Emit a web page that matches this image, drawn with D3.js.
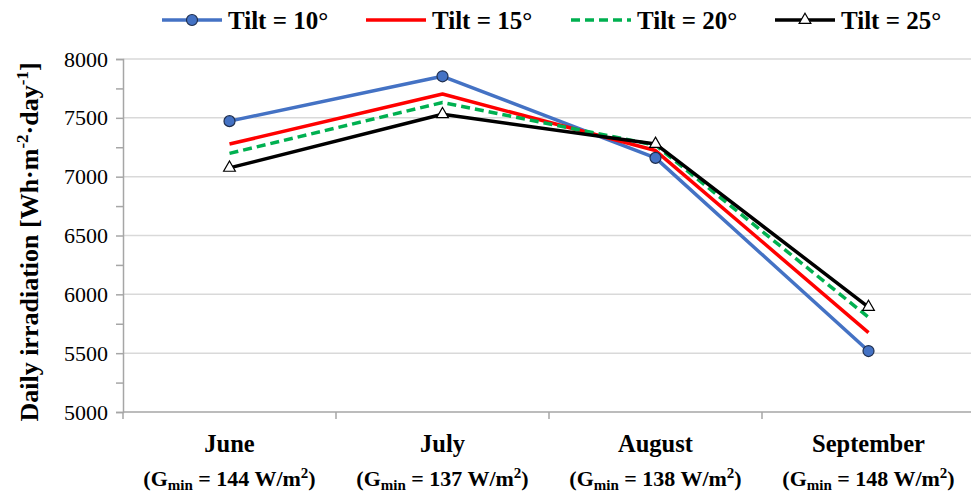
<!DOCTYPE html>
<html><head><meta charset="utf-8">
<script src="https://cdn.jsdelivr.net/npm/d3@7"></script>
<style>
html,body{margin:0;padding:0;background:#fff;}
svg text{font-family:"Liberation Serif","Times New Roman",Tinos,"DejaVu Serif",serif !important;}
</style></head>
<body>
<svg id="chart" width="971" height="492"></svg>
<script>
const months = ["June","July","August","September"];
const gmin = [144,137,138,148];
const yTicks = [5000,5500,6000,6500,7000,7500,8000];
const seriesNames = ["Tilt = 10°","Tilt = 15°","Tilt = 20°","Tilt = 25°"];
const tilt10 = [7472,7853,7160,5518];
const tilt15 = [7277,7702,7222,5675];
const tilt20 = [7198,7630,7268,5805];
const tilt25 = [7075,7530,7278,5892];

const svg = d3.select("#chart");
const L = 123, R = 975, T = 59, B = 412;
const x = d3.scaleBand().domain(months).range([L, R]);
const y = d3.scaleLinear().domain([5000,8000]).range([B, T]);

svg.append("g").selectAll("line").data(yTicks.slice(1)).join("line")
  .attr("x1", L).attr("x2", 971).attr("y1", d=>y(d)).attr("y2", d=>y(d))
  .attr("stroke", "#d9d9d9").attr("stroke-width", 1.5);

const yAxis = d3.axisLeft(y).tickValues(d3.range(5000,8001,250)).tickSize(7).tickFormat(d => d%500===0 ? d : "");
const gy = svg.append("g").attr("transform", `translate(${L},0)`).call(yAxis);
gy.select(".domain").attr("stroke", "#a6a6a6").attr("stroke-width", 1.5);
gy.selectAll(".tick line").attr("stroke", "#a6a6a6").attr("stroke-width", 1.5);
gy.selectAll(".tick text").attr("font-size", 22).attr("fill", "#000").attr("x", -15);

const gx = svg.append("g").attr("transform", `translate(0,${B})`);
gx.append("line").attr("x1", L).attr("x2", 971).attr("stroke", "#a6a6a6").attr("stroke-width", 1.5);
gx.selectAll("line.sep").data(months).join("line").attr("class","sep")
  .attr("x1", d=>x(d)).attr("x2", d=>x(d)).attr("y1", 0).attr("y2", 7)
  .attr("stroke", "#a6a6a6").attr("stroke-width", 1.5);

months.forEach((m,i) => {
  const cx = x(m) + x.bandwidth()/2;
  svg.append("text").attr("x", cx).attr("y", 452).attr("text-anchor","middle")
    .attr("font-weight","bold").attr("font-size", 24.5).text(m);
  const t = svg.append("text").attr("x", cx).attr("y", 486).attr("text-anchor","middle")
    .attr("font-weight","bold").attr("font-size", 22);
  t.append("tspan").text("(G");
  t.append("tspan").attr("font-size", 15).attr("dy", 4).text("min");
  t.append("tspan").attr("dy", -4).text(` = ${gmin[i]} W/m`);
  t.append("tspan").attr("font-size", 15).attr("dy", -8).text("2");
  t.append("tspan").attr("dy", 8).text(")");
});

const yt = svg.append("text").attr("transform", `translate(38,242) rotate(-90)`)
  .attr("text-anchor","middle").attr("font-weight","bold").attr("font-size", 26);
yt.append("tspan").text("Daily irradiation [Wh·m");
yt.append("tspan").attr("font-size", 17).attr("dy", -10).text("-2");
yt.append("tspan").attr("dy", 10).text("·day");
yt.append("tspan").attr("font-size", 17).attr("dy", -10).text("-1");
yt.append("tspan").attr("dy", 10).text("]");

const series = [
  {name: seriesNames[0], values: tilt10, color: "#4472c4", dash: null, marker: "circle"},
  {name: seriesNames[1], values: tilt15, color: "#ff0000", dash: null, marker: null},
  {name: seriesNames[2], values: tilt20, color: "#00b050", dash: "9,5", marker: null},
  {name: seriesNames[3], values: tilt25, color: "#000000", dash: null, marker: "triangle"}
];
const cxOf = m => x(m) + x.bandwidth()/2;
const line = d3.line().x((d,i)=>cxOf(months[i])).y(d=>y(d));
const tri = d3.symbol().type(d3.symbolTriangle).size(60);

series.forEach(s => {
  svg.append("path").attr("d", line(s.values)).attr("fill","none")
    .attr("stroke", s.color).attr("stroke-width", 3.5).attr("stroke-dasharray", s.dash)
    .attr("stroke-linejoin","round");
});
series.forEach(s => {
  if (s.marker === "circle") {
    svg.append("g").selectAll("circle").data(s.values).join("circle")
      .attr("cx",(d,i)=>cxOf(months[i])).attr("cy", d=>y(d)).attr("r", 5.5)
      .attr("fill", s.color).attr("stroke", "#1f2f4f").attr("stroke-width", 1.2);
  } else if (s.marker === "triangle") {
    svg.append("g").selectAll("path").data(s.values).join("path")
      .attr("transform",(d,i)=>`translate(${cxOf(months[i])},${y(d)})`).attr("d", tri)
      .attr("fill", "#fff").attr("stroke", "#000").attr("stroke-width", 1.2);
  }
});

const legX = [162, 366, 571, 775];
const lg = svg.append("g");
series.forEach((s,i) => {
  const g = lg.append("g").attr("transform", `translate(${legX[i]},20)`);
  g.append("line").attr("x1",0).attr("x2",60).attr("stroke", s.color)
    .attr("stroke-width",3.5).attr("stroke-dasharray", s.dash);
  if (s.marker === "circle") g.append("circle").attr("cx",30).attr("r",5.5).attr("fill",s.color).attr("stroke","#1f2f4f").attr("stroke-width",1.2);
  if (s.marker === "triangle") g.append("path").attr("transform","translate(30,0)").attr("d",tri).attr("fill","#fff").attr("stroke","#000").attr("stroke-width",1.2);
  g.append("text").attr("x", 66).attr("y", 8.5).attr("font-weight","bold").attr("font-size",25).text(s.name);
});
</script>
</body></html>
